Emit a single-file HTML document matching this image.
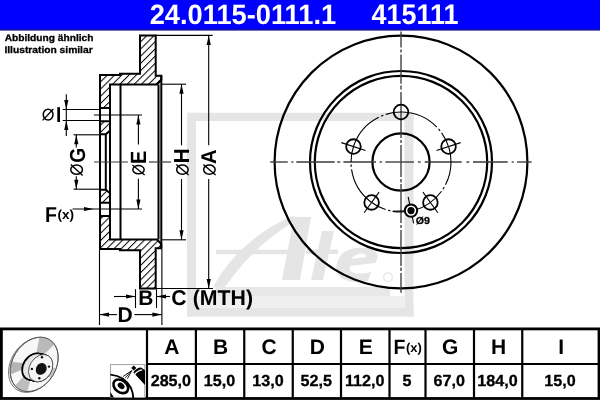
<!DOCTYPE html>
<html><head><meta charset="utf-8"><style>
html,body{margin:0;padding:0;background:#fff;width:600px;height:400px;overflow:hidden}
svg{display:block;will-change:transform}
text{text-rendering:geometricPrecision}
</style></head><body>
<svg width="600" height="400" viewBox="0 0 600 400">
<rect x="0" y="0" width="600" height="400" fill="#fff"/>
<rect x="0" y="0" width="600" height="29" fill="#0000fe"/><rect x="0" y="29" width="600" height="1.6" fill="#12129c"/>
<text transform="translate(149.68,24.43) scale(1.0485,1.0721)" fill="#fff" style="font-family:'Liberation Sans', sans-serif;font-weight:bold;font-size:26px">24.0115-0111.1</text><text transform="translate(371.61,24.43) scale(1.0344,1.0869)" fill="#fff" style="font-family:'Liberation Sans', sans-serif;font-weight:bold;font-size:26px">415111</text>
<g fill="#e5e5e5" stroke="none">
<rect x="187" y="112.8" width="226.5" height="8.2"/>
<rect x="187" y="112.8" width="9" height="203.7"/>
<rect x="404.5" y="113" width="9" height="203.5"/>
<rect x="187" y="307.5" width="226.5" height="9"/>
<rect x="215" y="287" width="175" height="9" fill="#e8e8e8"/>
<rect x="195.5" y="296" width="209" height="11.5" fill="#efefef"/>
<path d="M213,287 C228,260 252,234 292,216 L300,218 C268,236 244,260 225,287Z"/>
<path d="M294,217 L311,217 L300,280 L282,280Z"/>
<rect x="216" y="249.7" width="86" height="4.5"/>
<path d="M322,231 L334,231 L323,280 L311,280Z"/>
<rect x="306" y="249.5" width="32" height="4.5"/>
<path d="M358,248 C374,246 382,254 375,263 L350,266 C348,272 354,276 371,272 L368,281 C345,285 333,277 337,263 C340,253 347,249 358,248Z M351,259 L366,257 C367,252 357,252 351,259Z" fill-rule="evenodd"/>
</g>
<circle cx="388" cy="277.2" r="4.3" fill="none" stroke="#e5e5e5" stroke-width="1.3"/>
<defs><pattern id="h" patternUnits="userSpaceOnUse" width="5.1" height="10" patternTransform="translate(0,1.4) rotate(45)"><line x1="0.5" y1="0" x2="0.5" y2="10" stroke="#000" stroke-width="1"/></pattern></defs>
<path d="M100.00,75.00 L120.00,75.00 L120.00,73.80 L140.00,73.80 L140.00,35.50 L155.70,35.50 L155.70,75.80 L161.30,75.80 L161.30,80.00 L157.00,84.50 L110.00,84.50 L110.00,108.00 L100.00,108.00Z" fill="url(#h)" stroke="#000" stroke-width="2" stroke-linejoin="miter"/>
<path d="M100.00,121.30 L110.00,121.30 L110.00,130.80 L105.80,134.20 L100.00,134.20Z" fill="url(#h)" stroke="#000" stroke-width="2" stroke-linejoin="miter"/>
<path d="M100.00,249.00 L120.00,249.00 L120.00,250.20 L140.00,250.20 L140.00,288.50 L155.70,288.50 L155.70,248.20 L161.30,248.20 L161.30,244.00 L157.00,239.50 L110.00,239.50 L110.00,216.00 L100.00,216.00Z" fill="url(#h)" stroke="#000" stroke-width="2" stroke-linejoin="miter"/>
<path d="M100.00,202.70 L110.00,202.70 L110.00,193.20 L105.80,189.80 L100.00,189.80Z" fill="url(#h)" stroke="#000" stroke-width="2" stroke-linejoin="miter"/>
<line x1="100.00" y1="75.00" x2="100.00" y2="249.00" stroke="#000" stroke-width="2" />
<line x1="110.00" y1="84.50" x2="110.00" y2="239.50" stroke="#000" stroke-width="2" />
<line x1="105.80" y1="134.20" x2="105.80" y2="189.80" stroke="#000" stroke-width="2" />
<line x1="120.50" y1="84.50" x2="120.50" y2="239.50" stroke="#000" stroke-width="2" />
<line x1="158.50" y1="84.50" x2="158.50" y2="239.50" stroke="#000" stroke-width="2" />
<line x1="161.30" y1="75.80" x2="161.30" y2="248.20" stroke="#000" stroke-width="2" />
<line x1="62.70" y1="109.50" x2="100.00" y2="109.50" stroke="#000" stroke-width="1.1" />
<line x1="62.70" y1="120.50" x2="100.00" y2="120.50" stroke="#000" stroke-width="1.1" />
<line x1="66.30" y1="94.30" x2="66.30" y2="136.00" stroke="#000" stroke-width="1.1" />
<path d="M66.30,109.50 L64.20,100.00 L68.40,100.00Z" fill="#000"/>
<path d="M66.30,120.50 L68.40,130.00 L64.20,130.00Z" fill="#000"/>
<line x1="94.00" y1="115.00" x2="142.00" y2="115.00" stroke="#000" stroke-width="1.1" />
<line x1="73.50" y1="134.80" x2="100.00" y2="134.80" stroke="#000" stroke-width="1.1" />
<line x1="73.50" y1="189.20" x2="100.00" y2="189.20" stroke="#000" stroke-width="1.1" />
<line x1="76.30" y1="134.80" x2="76.30" y2="147.60" stroke="#000" stroke-width="1.1" />
<line x1="76.30" y1="176.20" x2="76.30" y2="189.20" stroke="#000" stroke-width="1.1" />
<path d="M76.30,134.80 L78.40,144.30 L74.20,144.30Z" fill="#000"/>
<path d="M76.30,189.20 L74.20,179.70 L78.40,179.70Z" fill="#000"/>
<line x1="72.50" y1="209.00" x2="142.00" y2="209.00" stroke="#000" stroke-width="1.1" />
<path d="M93.50,209.00 L84.00,211.10 L84.00,206.90Z" fill="#000"/>
<line x1="138.40" y1="115.00" x2="138.40" y2="144.50" stroke="#000" stroke-width="1.1" />
<line x1="138.40" y1="178.80" x2="138.40" y2="209.00" stroke="#000" stroke-width="1.1" />
<path d="M138.40,115.00 L140.50,124.50 L136.30,124.50Z" fill="#000"/>
<path d="M138.40,209.00 L136.30,199.50 L140.50,199.50Z" fill="#000"/>
<line x1="161.00" y1="84.20" x2="186.00" y2="84.20" stroke="#000" stroke-width="1.1" />
<line x1="161.00" y1="239.80" x2="186.00" y2="239.80" stroke="#000" stroke-width="1.1" />
<line x1="181.50" y1="84.20" x2="181.50" y2="145.30" stroke="#000" stroke-width="1.1" />
<line x1="181.50" y1="179.00" x2="181.50" y2="239.80" stroke="#000" stroke-width="1.1" />
<path d="M181.50,84.20 L183.60,93.70 L179.40,93.70Z" fill="#000"/>
<path d="M181.50,239.80 L179.40,230.30 L183.60,230.30Z" fill="#000"/>
<line x1="156.00" y1="35.40" x2="212.60" y2="35.40" stroke="#000" stroke-width="1.1" />
<line x1="156.00" y1="288.50" x2="213.00" y2="288.50" stroke="#000" stroke-width="1.1" />
<line x1="208.70" y1="35.40" x2="208.70" y2="145.30" stroke="#000" stroke-width="1.1" />
<line x1="208.70" y1="179.00" x2="208.70" y2="288.50" stroke="#000" stroke-width="1.1" />
<path d="M208.70,35.40 L210.80,44.90 L206.60,44.90Z" fill="#000"/>
<path d="M208.70,288.50 L206.60,279.00 L210.80,279.00Z" fill="#000"/>
<line x1="135.50" y1="289.20" x2="135.50" y2="308.00" stroke="#000" stroke-width="1.1" />
<line x1="156.50" y1="289.20" x2="156.50" y2="308.00" stroke="#000" stroke-width="1.1" />
<line x1="114.00" y1="296.50" x2="135.50" y2="296.50" stroke="#000" stroke-width="1.1" />
<line x1="156.50" y1="296.50" x2="170.00" y2="296.50" stroke="#000" stroke-width="1.1" />
<path d="M135.50,296.50 L126.00,298.60 L126.00,294.40Z" fill="#000"/>
<path d="M156.50,296.50 L166.00,294.40 L166.00,298.60Z" fill="#000"/>
<line x1="99.50" y1="250.00" x2="99.50" y2="325.00" stroke="#000" stroke-width="1.1" />
<line x1="161.90" y1="249.00" x2="161.90" y2="325.00" stroke="#000" stroke-width="1.1" />
<line x1="99.50" y1="314.60" x2="116.90" y2="314.60" stroke="#000" stroke-width="1.1" />
<line x1="134.40" y1="314.60" x2="161.90" y2="314.60" stroke="#000" stroke-width="1.1" />
<path d="M99.50,314.60 L109.00,312.50 L109.00,316.70Z" fill="#000"/>
<path d="M161.90,314.60 L152.40,316.70 L152.40,312.50Z" fill="#000"/>
<line x1="94.00" y1="162.00" x2="128.00" y2="162.00" stroke="#3a3a3a" stroke-width="1.2" />
<line x1="149.00" y1="162.00" x2="171.00" y2="162.00" stroke="#3a3a3a" stroke-width="1.2" />
<g fill="none" stroke="#000">
<circle cx="401" cy="162" r="126.4" stroke-width="2.2"/>
<circle cx="401" cy="162" r="91" stroke-width="2.2"/>
<circle cx="401" cy="162" r="86.2" stroke-width="2.2"/>
<circle cx="401" cy="162" r="28.6" stroke-width="2.2"/>
</g>
<line x1="270.20" y1="162.00" x2="287.80" y2="162.00" stroke="#3a3a3a" stroke-width="1.35" />
<line x1="291.30" y1="162.00" x2="293.40" y2="162.00" stroke="#3a3a3a" stroke-width="1.35" />
<line x1="296.30" y1="162.00" x2="334.70" y2="162.00" stroke="#3a3a3a" stroke-width="1.35" />
<line x1="337.20" y1="162.00" x2="340.30" y2="162.00" stroke="#3a3a3a" stroke-width="1.35" />
<line x1="343.40" y1="162.00" x2="376.00" y2="162.00" stroke="#3a3a3a" stroke-width="1.35" />
<line x1="379.60" y1="162.00" x2="382.00" y2="162.00" stroke="#3a3a3a" stroke-width="1.35" />
<line x1="385.30" y1="162.00" x2="414.00" y2="162.00" stroke="#3a3a3a" stroke-width="1.35" />
<line x1="418.00" y1="162.00" x2="420.70" y2="162.00" stroke="#3a3a3a" stroke-width="1.35" />
<line x1="424.70" y1="162.00" x2="461.70" y2="162.00" stroke="#3a3a3a" stroke-width="1.35" />
<line x1="466.30" y1="162.00" x2="469.40" y2="162.00" stroke="#3a3a3a" stroke-width="1.35" />
<line x1="473.00" y1="162.00" x2="507.70" y2="162.00" stroke="#3a3a3a" stroke-width="1.35" />
<line x1="511.70" y1="162.00" x2="513.70" y2="162.00" stroke="#3a3a3a" stroke-width="1.35" />
<line x1="517.00" y1="162.00" x2="531.70" y2="162.00" stroke="#3a3a3a" stroke-width="1.35" />
<line x1="401.00" y1="31.50" x2="401.00" y2="47.60" stroke="#3a3a3a" stroke-width="1.35" />
<line x1="401.00" y1="49.40" x2="401.00" y2="52.40" stroke="#3a3a3a" stroke-width="1.35" />
<line x1="401.00" y1="54.60" x2="401.00" y2="83.70" stroke="#3a3a3a" stroke-width="1.35" />
<line x1="401.00" y1="85.50" x2="401.00" y2="89.50" stroke="#3a3a3a" stroke-width="1.35" />
<line x1="401.00" y1="92.00" x2="401.00" y2="138.00" stroke="#3a3a3a" stroke-width="1.35" />
<line x1="401.00" y1="140.00" x2="401.00" y2="143.00" stroke="#3a3a3a" stroke-width="1.35" />
<line x1="401.00" y1="145.00" x2="401.00" y2="177.00" stroke="#3a3a3a" stroke-width="1.35" />
<line x1="401.00" y1="179.00" x2="401.00" y2="182.40" stroke="#3a3a3a" stroke-width="1.35" />
<line x1="401.00" y1="184.00" x2="401.00" y2="223.00" stroke="#3a3a3a" stroke-width="1.35" />
<line x1="401.00" y1="225.00" x2="401.00" y2="228.00" stroke="#3a3a3a" stroke-width="1.35" />
<line x1="401.00" y1="230.00" x2="401.00" y2="266.00" stroke="#3a3a3a" stroke-width="1.35" />
<line x1="401.00" y1="267.60" x2="401.00" y2="271.00" stroke="#3a3a3a" stroke-width="1.35" />
<line x1="401.00" y1="273.00" x2="401.00" y2="292.70" stroke="#3a3a3a" stroke-width="1.35" />
<circle cx="401" cy="162" r="50" fill="none" stroke="#000" stroke-width="1.1" stroke-dasharray="38 2.5 2.5 2.5 17.33 0" stroke-dashoffset="14.26"/>
<circle cx="401.00" cy="112.00" r="7.3" fill="none" stroke="#000" stroke-width="1.8"/>
<circle cx="448.55" cy="146.55" r="7.3" fill="none" stroke="#000" stroke-width="1.8"/>
<line x1="436.47" y1="150.47" x2="460.63" y2="142.62" stroke="#000" stroke-width="1.1" />
<circle cx="430.39" cy="202.45" r="7.3" fill="none" stroke="#000" stroke-width="1.8"/>
<line x1="422.92" y1="192.18" x2="437.85" y2="212.73" stroke="#000" stroke-width="1.1" />
<circle cx="371.61" cy="202.45" r="7.3" fill="none" stroke="#000" stroke-width="1.8"/>
<line x1="379.08" y1="192.18" x2="364.15" y2="212.73" stroke="#000" stroke-width="1.1" />
<circle cx="353.45" cy="146.55" r="7.3" fill="none" stroke="#000" stroke-width="1.8"/>
<line x1="365.53" y1="150.47" x2="341.37" y2="142.62" stroke="#000" stroke-width="1.1" />
<line x1="408.18" y1="196.89" x2="413.62" y2="223.33" stroke="#000" stroke-width="1.1" />
<line x1="392.50" y1="211.20" x2="411.00" y2="210.60" stroke="#000" stroke-width="1.1" />
<circle cx="411" cy="210.6" r="6.2" fill="#fff" stroke="#000" stroke-width="2"/>
<circle cx="411" cy="210.6" r="3.6" fill="#000"/>
<text transform="translate(4.63,40.9) scale(1.0618,1.0)" fill="#000" stroke="#000" stroke-width="0.3" style="font-family:'Liberation Sans', sans-serif;font-weight:bold;font-size:9.6px">Abbildung ähnlich</text>
<text transform="translate(4.43,52.58) scale(1.0675,0.9965)" fill="#000" stroke="#000" stroke-width="0.3" style="font-family:'Liberation Sans', sans-serif;font-weight:bold;font-size:9.6px">Illustration similar</text>
<text transform="translate(56.0,121.75) scale(1.0,1.1346)" fill="#000" style="font-family:'Liberation Sans', sans-serif;font-weight:bold;font-size:19px">I</text>
<text transform="translate(84.76,162.76) rotate(-90) scale(1.0097,1.1439)" fill="#000" style="font-family:'Liberation Sans', sans-serif;font-weight:bold;font-size:19px">G</text>
<text transform="translate(145.9,163.91) rotate(-90) scale(1.0447,1.1615)" fill="#000" style="font-family:'Liberation Sans', sans-serif;font-weight:bold;font-size:19px">E</text>
<text transform="translate(189.0,163.58) rotate(-90) scale(1.1022,1.1385)" fill="#000" style="font-family:'Liberation Sans', sans-serif;font-weight:bold;font-size:19px">H</text>
<text transform="translate(216.0,163.93) rotate(-90) scale(1.0667,1.1231)" fill="#000" style="font-family:'Liberation Sans', sans-serif;font-weight:bold;font-size:19px">A</text>
<text transform="translate(45.11,221.8) scale(1.0286,1.1308)" fill="#000" style="font-family:'Liberation Sans', sans-serif;font-weight:bold;font-size:19px">F</text>
<text transform="translate(57.48,219.4) scale(1.2364,1.2)" fill="#000" style="font-family:'Liberation Sans', sans-serif;font-weight:bold;font-size:11px">(x)</text>
<text transform="translate(138.36,305.2) scale(1.0474,1.0618)" fill="#000" style="font-family:'Liberation Sans', sans-serif;font-weight:bold;font-size:20px">B</text>
<text transform="translate(171.37,305.49) scale(1.0649,1.0685)" fill="#000" style="font-family:'Liberation Sans', sans-serif;font-weight:bold;font-size:20px">C (MTH)</text>
<text transform="translate(117.45,321.8) scale(1.0531,1.0691)" fill="#000" style="font-family:'Liberation Sans', sans-serif;font-weight:bold;font-size:20px">D</text>
<text transform="translate(415.8,223.82) scale(1.0614,1.0133)" fill="#000" stroke="#000" stroke-width="0.25" style="font-family:'Liberation Sans', sans-serif;font-weight:bold;font-size:10px">Ø9</text>
<ellipse cx="48.12" cy="114.62" rx="4.88" ry="5.38" fill="none" stroke="#000" stroke-width="1.5"/>
<line x1="42.6" y1="120.4" x2="53.4" y2="109.0" stroke="#000" stroke-width="1.35"/>
<ellipse cx="76.60" cy="169.60" rx="5.85" ry="4.65" fill="none" stroke="#000" stroke-width="1.5"/>
<line x1="70.8" y1="164.5" x2="82.6" y2="175.4" stroke="#000" stroke-width="1.35"/>
<ellipse cx="138.50" cy="169.70" rx="5.65" ry="4.15" fill="none" stroke="#000" stroke-width="1.5"/>
<line x1="132.4" y1="165.1" x2="144.6" y2="175.0" stroke="#000" stroke-width="1.35"/>
<ellipse cx="182.40" cy="169.60" rx="5.75" ry="4.55" fill="none" stroke="#000" stroke-width="1.5"/>
<line x1="176.3" y1="164.6" x2="188.6" y2="175.0" stroke="#000" stroke-width="1.35"/>
<ellipse cx="209.40" cy="169.60" rx="5.75" ry="4.55" fill="none" stroke="#000" stroke-width="1.5"/>
<line x1="203.3" y1="164.6" x2="215.6" y2="175.0" stroke="#000" stroke-width="1.35"/>
<rect x="1.4" y="328.9" width="597.6" height="69.6" fill="none" stroke="#000" stroke-width="2.8"/>
<line x1="147" y1="364" x2="599" y2="364" stroke="#000" stroke-width="2.1"/>
<line x1="147" y1="329" x2="147" y2="398" stroke="#000" stroke-width="2.2"/>
<line x1="195.9" y1="329" x2="195.9" y2="398" stroke="#000" stroke-width="2.2"/>
<line x1="244.25" y1="329" x2="244.25" y2="398" stroke="#000" stroke-width="2.2"/>
<line x1="292.75" y1="329" x2="292.75" y2="398" stroke="#000" stroke-width="2.2"/>
<line x1="341" y1="329" x2="341" y2="398" stroke="#000" stroke-width="2.2"/>
<line x1="389.5" y1="329" x2="389.5" y2="398" stroke="#000" stroke-width="2.2"/>
<line x1="425.5" y1="329" x2="425.5" y2="398" stroke="#000" stroke-width="2.2"/>
<line x1="474" y1="329" x2="474" y2="398" stroke="#000" stroke-width="2.2"/>
<line x1="522.25" y1="329" x2="522.25" y2="398" stroke="#000" stroke-width="2.2"/>
<text transform="translate(171.95,354.3) scale(1.1059,1.1077)" text-anchor="middle" style="font-family:'Liberation Sans', sans-serif;font-weight:bold;font-size:19px">A</text>
<text transform="translate(170.85,386.3) scale(1.0084,0.9982)" text-anchor="middle" stroke="#000" stroke-width="0.3" style="font-family:'Liberation Sans', sans-serif;font-weight:bold;font-size:16px">285,0</text>
<text transform="translate(220.57,354.3) scale(1.1059,1.1077)" text-anchor="middle" style="font-family:'Liberation Sans', sans-serif;font-weight:bold;font-size:19px">B</text>
<text transform="translate(219.47,386.3) scale(1.0084,0.9982)" text-anchor="middle" stroke="#000" stroke-width="0.3" style="font-family:'Liberation Sans', sans-serif;font-weight:bold;font-size:16px">15,0</text>
<text transform="translate(269.00,354.3) scale(1.1059,1.1077)" text-anchor="middle" style="font-family:'Liberation Sans', sans-serif;font-weight:bold;font-size:19px">C</text>
<text transform="translate(267.90,386.3) scale(1.0084,0.9982)" text-anchor="middle" stroke="#000" stroke-width="0.3" style="font-family:'Liberation Sans', sans-serif;font-weight:bold;font-size:16px">13,0</text>
<text transform="translate(317.38,354.3) scale(1.1059,1.1077)" text-anchor="middle" style="font-family:'Liberation Sans', sans-serif;font-weight:bold;font-size:19px">D</text>
<text transform="translate(316.27,386.3) scale(1.0084,0.9982)" text-anchor="middle" stroke="#000" stroke-width="0.3" style="font-family:'Liberation Sans', sans-serif;font-weight:bold;font-size:16px">52,5</text>
<text transform="translate(365.75,354.3) scale(1.1059,1.1077)" text-anchor="middle" style="font-family:'Liberation Sans', sans-serif;font-weight:bold;font-size:19px">E</text>
<text transform="translate(364.65,386.3) scale(1.0084,0.9982)" text-anchor="middle" stroke="#000" stroke-width="0.3" style="font-family:'Liberation Sans', sans-serif;font-weight:bold;font-size:16px">112,0</text>
<text transform="translate(393.51,354.3) scale(1.0286,1.0846)" style="font-family:'Liberation Sans', sans-serif;font-weight:bold;font-size:19px">F</text>
<text transform="translate(405.91,351.97) scale(1.1879,1.1707)" style="font-family:'Liberation Sans', sans-serif;font-weight:bold;font-size:11px">(x)</text>
<text transform="translate(406.90,386.3) scale(1.0084,0.9982)" text-anchor="middle" stroke="#000" stroke-width="0.3" style="font-family:'Liberation Sans', sans-serif;font-weight:bold;font-size:16px">5</text>
<text transform="translate(450.25,354.3) scale(1.1059,1.1077)" text-anchor="middle" style="font-family:'Liberation Sans', sans-serif;font-weight:bold;font-size:19px">G</text>
<text transform="translate(449.15,386.3) scale(1.0084,0.9982)" text-anchor="middle" stroke="#000" stroke-width="0.3" style="font-family:'Liberation Sans', sans-serif;font-weight:bold;font-size:16px">67,0</text>
<text transform="translate(498.62,354.3) scale(1.1059,1.1077)" text-anchor="middle" style="font-family:'Liberation Sans', sans-serif;font-weight:bold;font-size:19px">H</text>
<text transform="translate(497.52,386.3) scale(1.0084,0.9982)" text-anchor="middle" stroke="#000" stroke-width="0.3" style="font-family:'Liberation Sans', sans-serif;font-weight:bold;font-size:16px">184,0</text>
<text transform="translate(561.12,354.3) scale(1.1059,1.1077)" text-anchor="middle" style="font-family:'Liberation Sans', sans-serif;font-weight:bold;font-size:19px">I</text>
<text transform="translate(560.02,386.3) scale(1.0084,0.9982)" text-anchor="middle" stroke="#000" stroke-width="0.3" style="font-family:'Liberation Sans', sans-serif;font-weight:bold;font-size:16px">15,0</text>
<defs><clipPath id="dclip"><ellipse cx="34.20" cy="364.40" rx="29.10" ry="21.70" transform="rotate(-57.9 34.20 364.40)" /></clipPath></defs>
<ellipse cx="32.50" cy="365.20" rx="29.10" ry="21.70" transform="rotate(-57.9 32.50 365.20)" fill="#fff" stroke="#666" stroke-width="0.8"/>
<ellipse cx="34.20" cy="364.40" rx="29.10" ry="21.70" transform="rotate(-57.9 34.20 364.40)" fill="#f7f7f7" stroke="#555" stroke-width="0.8"/>
<g clip-path="url(#dclip)"><path d="M34.2,364.4 L41.83,325.13 L62.48,336.12Z" fill="#b9b9b9"/><path d="M34.2,364.4 L73.59,371.35 L64.84,390.11Z" fill="#c4c4c4"/><path d="M34.2,364.4 L24.52,403.21 L7.43,394.13Z" fill="#bdbdbd"/><path d="M34.2,364.4 L-2.62,380.03 L-5.50,359.53Z" fill="#b5b5b5"/></g>
<ellipse cx="34.20" cy="364.40" rx="29.10" ry="21.70" transform="rotate(-57.9 34.20 364.40)" fill="none" stroke="#555" stroke-width="0.8"/>
<ellipse cx="33.80" cy="366.60" rx="14.10" ry="10.60" transform="rotate(-57.9 33.80 366.60)" fill="#e6e6e6" stroke="#000" stroke-width="1.7"/>
<ellipse cx="34.62" cy="366.79" rx="14.10" ry="10.60" transform="rotate(-57.9 34.62 366.79)" fill="#e6e6e6" stroke="#000" stroke-width="1.7"/>
<ellipse cx="35.45" cy="366.98" rx="14.10" ry="10.60" transform="rotate(-57.9 35.45 366.98)" fill="#e6e6e6" stroke="#000" stroke-width="1.7"/>
<ellipse cx="36.27" cy="367.16" rx="14.10" ry="10.60" transform="rotate(-57.9 36.27 367.16)" fill="#e6e6e6" stroke="#000" stroke-width="1.7"/>
<ellipse cx="37.10" cy="367.35" rx="14.10" ry="10.60" transform="rotate(-57.9 37.10 367.35)" fill="#e6e6e6" stroke="#000" stroke-width="1.7"/>
<ellipse cx="37.92" cy="367.54" rx="14.10" ry="10.60" transform="rotate(-57.9 37.92 367.54)" fill="#e6e6e6" stroke="#000" stroke-width="1.7"/>
<ellipse cx="38.75" cy="367.73" rx="14.10" ry="10.60" transform="rotate(-57.9 38.75 367.73)" fill="#e6e6e6" stroke="#000" stroke-width="1.7"/>
<ellipse cx="39.57" cy="367.91" rx="14.10" ry="10.60" transform="rotate(-57.9 39.57 367.91)" fill="#e6e6e6" stroke="#000" stroke-width="1.7"/>
<ellipse cx="40.40" cy="368.10" rx="14.10" ry="10.60" transform="rotate(-57.9 40.40 368.10)" fill="#e6e6e6" stroke="#000" stroke-width="1.7"/>
<ellipse cx="33.80" cy="366.60" rx="13.20" ry="9.70" transform="rotate(-57.9 33.80 366.60)" fill="#e6e6e6"/>
<ellipse cx="34.62" cy="366.79" rx="13.20" ry="9.70" transform="rotate(-57.9 34.62 366.79)" fill="#e6e6e6"/>
<ellipse cx="35.45" cy="366.98" rx="13.20" ry="9.70" transform="rotate(-57.9 35.45 366.98)" fill="#e6e6e6"/>
<ellipse cx="36.27" cy="367.16" rx="13.20" ry="9.70" transform="rotate(-57.9 36.27 367.16)" fill="#e6e6e6"/>
<ellipse cx="37.10" cy="367.35" rx="13.20" ry="9.70" transform="rotate(-57.9 37.10 367.35)" fill="#e6e6e6"/>
<ellipse cx="37.92" cy="367.54" rx="13.20" ry="9.70" transform="rotate(-57.9 37.92 367.54)" fill="#e6e6e6"/>
<ellipse cx="38.75" cy="367.73" rx="13.20" ry="9.70" transform="rotate(-57.9 38.75 367.73)" fill="#e6e6e6"/>
<ellipse cx="39.57" cy="367.91" rx="13.20" ry="9.70" transform="rotate(-57.9 39.57 367.91)" fill="#e6e6e6"/>
<ellipse cx="40.40" cy="368.10" rx="13.20" ry="9.70" transform="rotate(-57.9 40.40 368.10)" fill="#e6e6e6"/>
<ellipse cx="40.70" cy="368.20" rx="14.60" ry="11.10" transform="rotate(-57.9 40.70 368.20)" fill="#f5f5f5" stroke="#444" stroke-width="0.8"/>
<ellipse cx="41.20" cy="368.90" rx="6.20" ry="5.20" transform="rotate(-57.9 41.20 368.90)" fill="#111"/>
<circle cx="42" cy="357.3" r="1.2" fill="#111"/>
<circle cx="49" cy="366.6" r="1.2" fill="#111"/>
<circle cx="39.3" cy="378.2" r="1.2" fill="#111"/>
<circle cx="31.9" cy="368.9" r="1.2" fill="#111"/>
<rect x="110.4" y="364.6" width="34.4" height="33" fill="#fff" stroke="#999" stroke-width="0.9"/>
<path d="M110.4,374.6 C119,375.4 127,380 131,388 C132.5,391.5 133.2,395 133.3,398" fill="none" stroke="#000" stroke-width="1.9"/>
<ellipse cx="120.8" cy="386.3" rx="8.2" ry="5.9" transform="rotate(38 120.8 386.3)" fill="#fff" stroke="#000" stroke-width="2.6"/>
<ellipse cx="121.1" cy="385.9" rx="3.7" ry="2.8" transform="rotate(38 121.1 385.9)" fill="#000"/>
<path d="M110.4,392 L114,397.5 L110.4,397.5Z" fill="#000"/>
<path d="M133.4,372.6 C134.8,369.6 138,367.6 141.2,367.6 L145,370.2 L145,385 Z" fill="#000"/>
<path d="M134.6,374.6 C136.2,372.2 139,370.4 142.2,369.9" fill="none" stroke="#fff" stroke-width="1.2"/>
<rect x="132" y="366.2" width="3.6" height="3.6" transform="rotate(45 133.8 368)" fill="#000"/>
<path d="M131.8,370.6 L122.9,376.6 M131.8,370.6 L125.2,377.8 M131.8,370.6 L127.4,378.8" stroke="#000" stroke-width="0.9" fill="none"/>

</svg>
</body></html>
